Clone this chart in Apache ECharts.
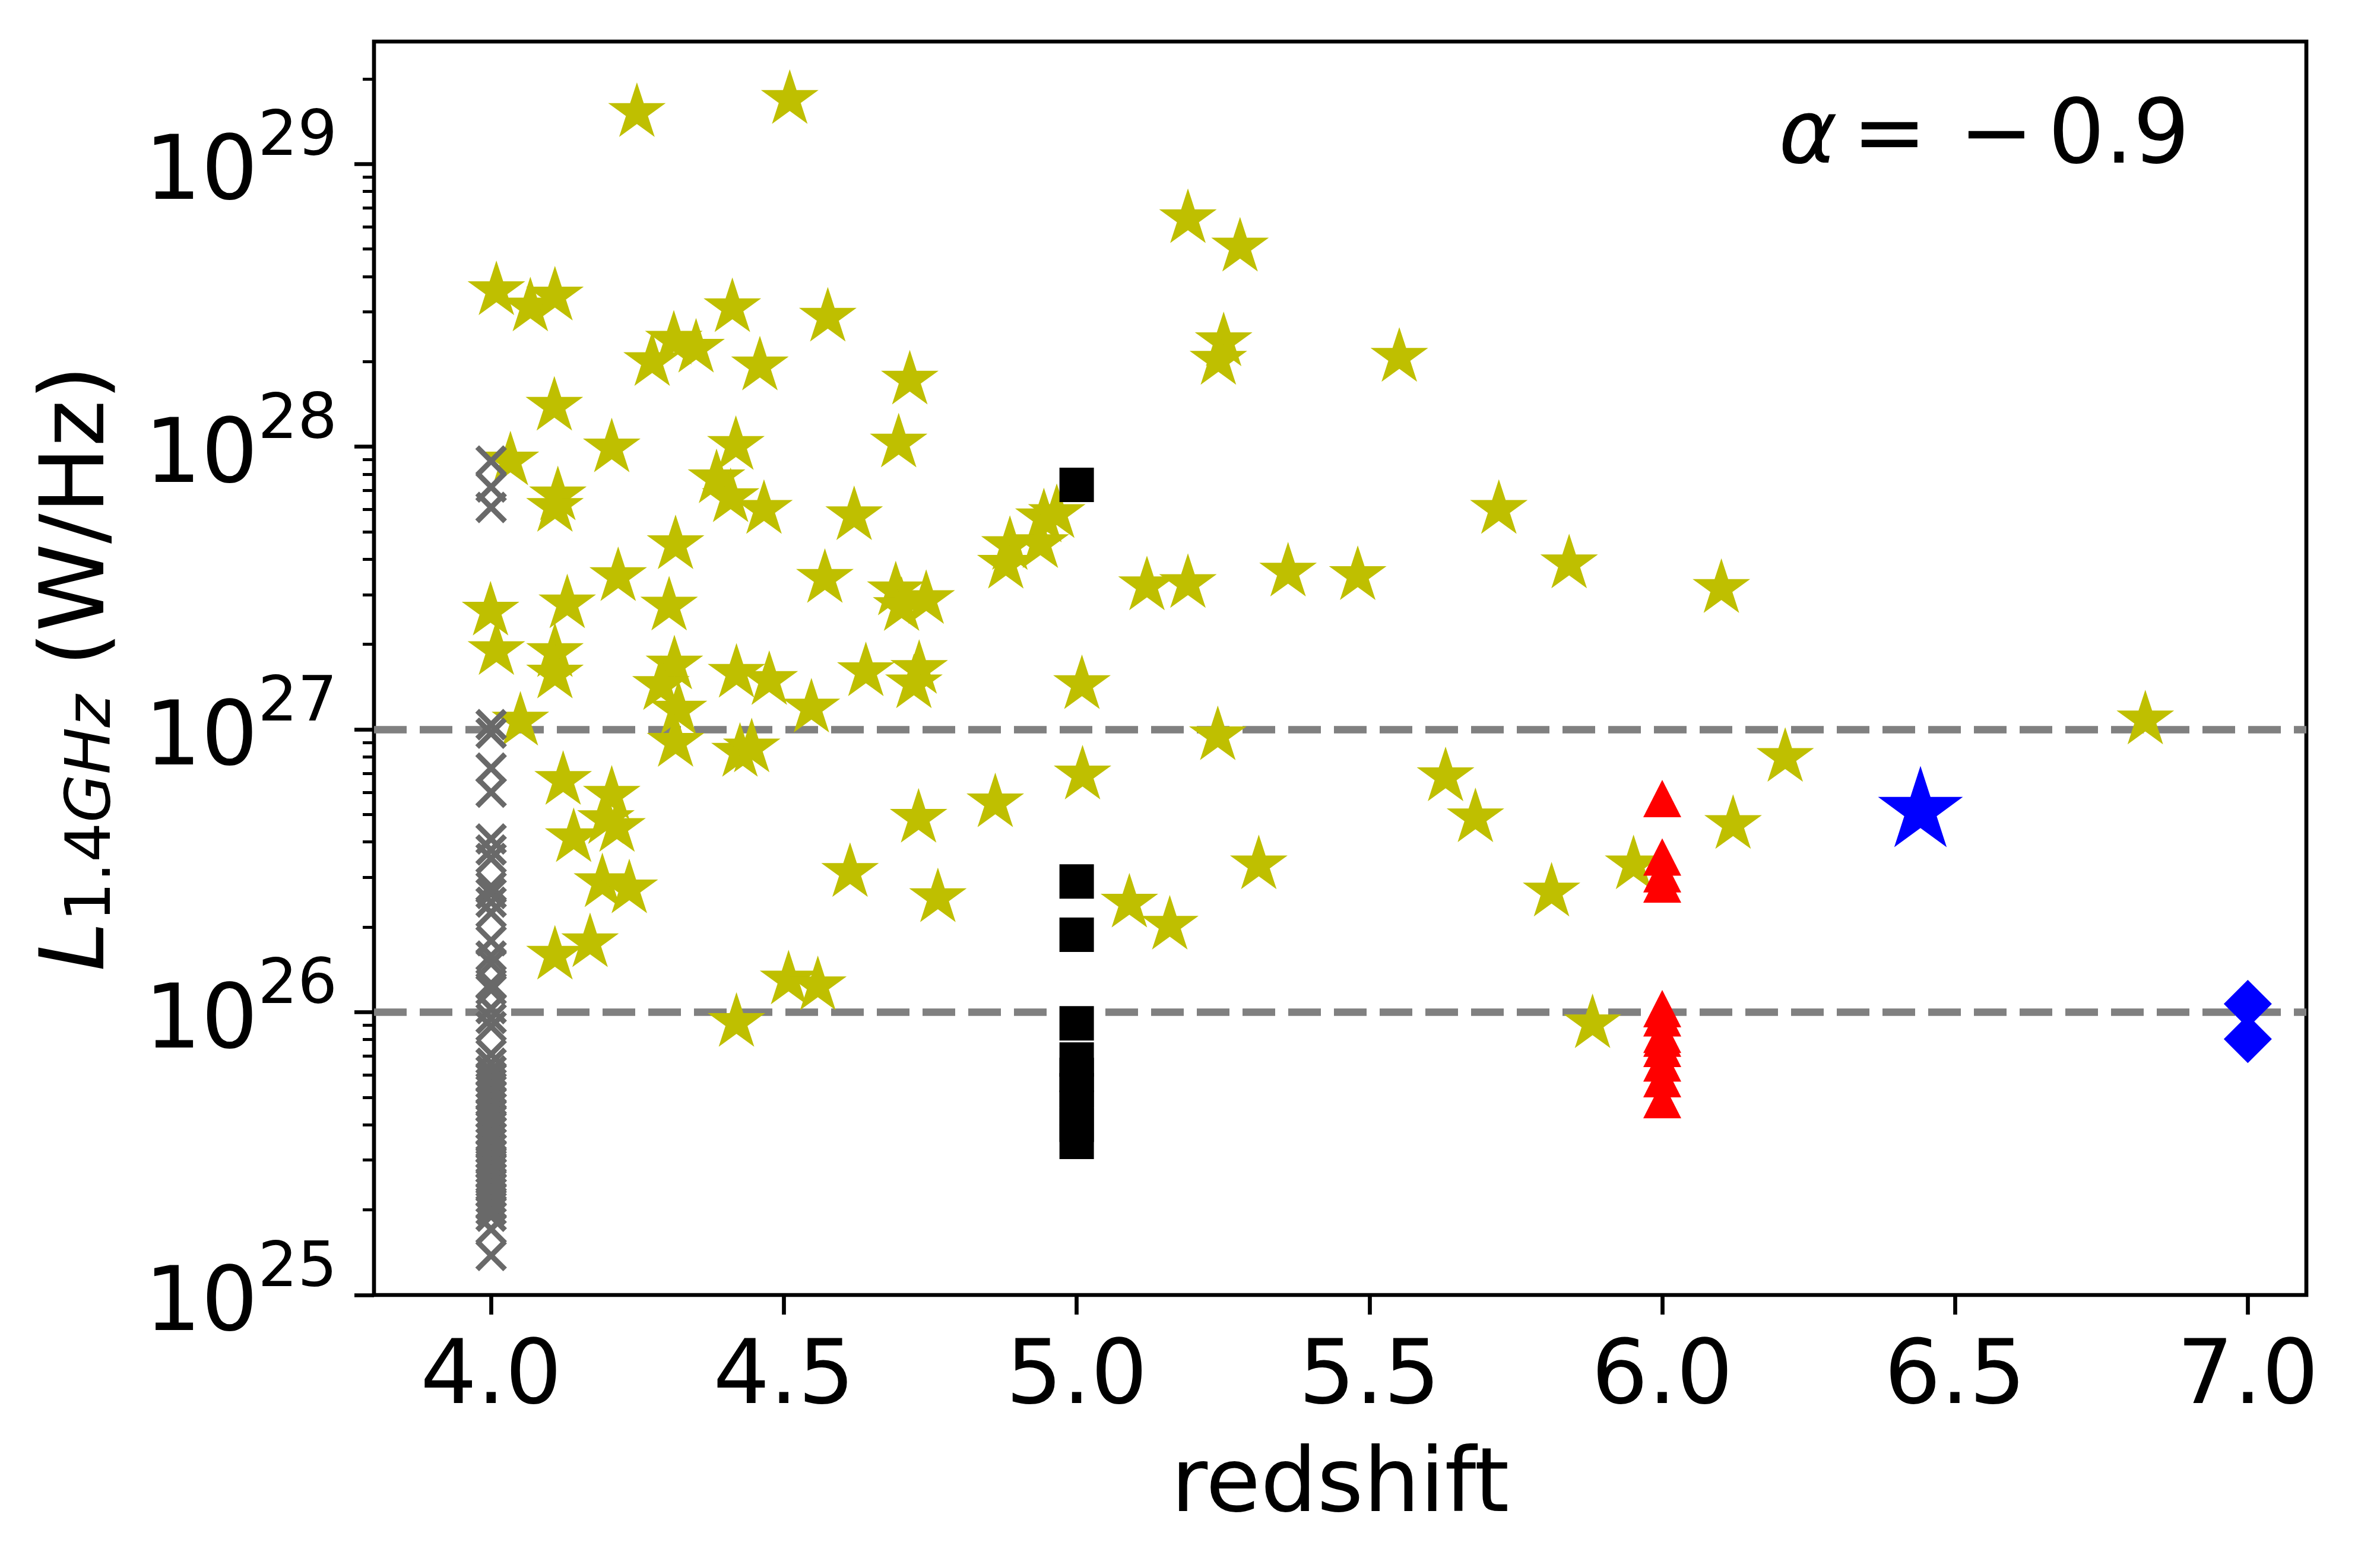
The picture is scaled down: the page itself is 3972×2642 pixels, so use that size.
<!DOCTYPE html>
<html><head><meta charset="utf-8">
<script src="https://cdn.jsdelivr.net/npm/echarts@6/dist/echarts.min.js"></script>
<style>html,body{margin:0;padding:0;background:#fff}#c{width:3972px;height:2642px}</style>
</head><body><div id="c"></div>
<script>
// ---- data (redshift, L_1.4GHz in W/Hz) ----
const starPoints = [
  [4.249,1.52e29],[4.510,1.69e29],[5.190,6.4e28],[5.279,5.08e28],
  [4.009,3.56e28],[4.067,3.12e28],[4.109,3.41e28],[4.412,3.10e28],[4.575,2.87e28],
  [4.312,2.38e28],[4.350,2.23e28],[4.275,2.0e28],[4.459,1.93e28],[4.715,1.72e28],
  [5.251,2.35e28],[5.242,2.02e28],[5.551,2.07e28],
  [4.108,1.39e28],[4.206,9.9e27],[4.418,1.01e28],[4.696,1.03e28],[4.033,8.9e27],
  [4.114,6.7e27],[4.109,6.1e27],[4.385,7.7e27],[4.409,6.6e27],[4.466,6.0e27],[4.620,5.7e27],
  [4.944,5.6e27],[4.966,5.8e27],[4.886,4.47e27],[4.879,3.84e27],[4.938,4.54e27],
  [5.721,6.0e27],[5.841,3.85e27],[6.101,3.15e27],[5.361,3.6e27],[5.480,3.5e27],[5.190,3.28e27],[5.120,3.22e27],
  [4.217,3.47e27],[4.315,4.5e27],[4.570,3.42e27],[4.130,2.78e27],[4.304,2.73e27],
  [4.691,3.09e27],[4.701,2.72e27],[4.743,2.88e27],[3.999,2.62e27],
  [4.009,1.9e27],[4.109,1.87e27],[4.109,1.57e27],[4.313,1.69e27],[4.290,1.43e27],[4.320,1.17e27],[4.315,9.0e26],
  [4.419,1.58e27],[4.475,1.49e27],[4.640,1.6e27],[4.731,1.63e27],[4.722,1.45e27],[4.547,1.19e27],[5.009,1.44e27],
  [4.050,1.07e27],[6.825,1.08e27],
  [4.425,8.3e26],[4.445,8.6e26],[5.241,9.5e26],[6.210,7.96e26],
  [4.123,6.6e26],[4.206,5.85e26],[5.010,6.9e26],[5.630,6.8e26],[4.861,5.5e26],
  [4.196,4.8e26],[4.215,4.5e26],[4.141,4.14e26],[4.730,4.85e26],[5.681,4.87e26],[6.121,4.61e26],
  [4.190,2.87e26],[4.236,2.73e26],[4.613,3.12e26],[4.763,2.54e26],[5.090,2.43e26],[5.159,2.03e26],
  [5.311,3.32e26],[5.811,2.66e26],[5.951,3.32e26],
  [4.109,1.59e26],[4.169,1.76e26],[4.508,1.30e26],[4.558,1.24e26],[4.419,9.2e25],[5.881,9.1e25]
];
const crossZ = 4.0;
const crossLum = [8.9e27,7.2e27,6.1e27,1.04e27,9.7e26,7.3e26,6.0e26,4.1e26,3.75e26,3.5e26,
  2.78e26,2.63e26,2.45e26,2.25e26,1.79e26,1.58e26,1.49e26,1.26e26,1.2e26,1.03e26,9.5e25,8.9e25,
  7.1e25,6.6e25,6.2e25,5.9e25,5.6e25,5.3e25,5.05e25,4.8e25,4.6e25,4.4e25,4.2e25,4.0e25,3.8e25,
  3.6e25,3.45e25,3.3e25,3.15e25,3.0e25,2.9e25,2.8e25,2.7e25,2.6e25,2.5e25,2.4e25,2.3e25,2.2e25,
  2.1e25,2.0e25,1.9e25,1.71e25,1.38e25];
const squareZ = 5.0;
const squareLum = [7.33e27,2.9e26,1.88e26,9.14e25,6.8e25,6.0e25,5.3e25,4.6e25,4.0e25,3.48e25];
const triangleZ = 6.0;
const triangleLum = [5.7e26,3.54e26,3.09e26,2.84e26,1.03e26,9.55e25,8.36e25,8.1e25,7.45e25,6.62e25,5.82e25,4.91e25];
const blueStarPoint = [[6.441,5.16e26]];
const diamondZ = 7.0;
const diamondLum = [1.07e26,8.04e25];
const refLines = [1e26,1e27];
const xTicks = [4.0,4.5,5.0,5.5,6.0,6.5,7.0];
const yDecades = [25,26,27,28,29];

// ---- helpers ----
function starPath(){
  let d='';
  for(let i=0;i<10;i++){
    const a=-Math.PI/2+i*Math.PI/5, r=(i%2)?0.381966:1;
    d+=(i?'L':'M')+(r*Math.cos(a)*100).toFixed(2)+','+(r*Math.sin(a)*100).toFixed(2);
  }
  return 'path://'+d+'Z';
}
const STAR = starPath();
const minorTicks = [];
yDecades.forEach(n=>{ for(let k=2;k<=9;k++){ const v=n+Math.log10(k); if(v<=29.433) minorTicks.push(v);} });

const FONT = 'DejaVu Sans';
const chart = echarts.init(document.getElementById('c'), null, {renderer:'canvas'});
chart.setOption({
  animation:false,
  backgroundColor:'#fff',
  textStyle:{fontFamily:FONT},
  grid:{left:630,right:87,top:70,bottom:460,show:true,borderColor:'#000',borderWidth:6.7,
        backgroundColor:'transparent',containLabel:false,outerBoundsMode:'none'},
  xAxis:{
    type:'value',min:3.8,max:7.1,
    axisLine:{show:false},
    splitLine:{show:false},
    axisTick:{show:true,inside:false,length:33,customValues:xTicks,lineStyle:{color:'#000',width:6.7}},
    axisLabel:{show:true,customValues:xTicks,formatter:v=>Number(v).toFixed(1),fontSize:150,color:'#000',margin:68,fontFamily:FONT},
    name:'redshift',nameLocation:'middle',nameGap:250,
    nameTextStyle:{fontSize:150,color:'#000',fontFamily:FONT}
  },
  yAxis:[
    {type:'log',logBase:10,min:1e25,max:2.71e29,position:'left',
     axisLine:{show:false},axisTick:{show:false},axisLabel:{show:false},splitLine:{show:false},
     name:'{i|L}{sd|1.4}{si|GHz}{n| (W/Hz)}',nameLocation:'middle',nameGap:420,nameRotate:90,
     nameTextStyle:{color:'#000',fontFamily:FONT,fontSize:150,rich:{
       i:{fontSize:150,fontStyle:'italic',lineHeight:150,verticalAlign:'bottom',fontFamily:FONT,color:'#000'},
       sd:{fontSize:105,lineHeight:92,verticalAlign:'bottom',fontFamily:FONT,color:'#000'},
       si:{fontSize:105,fontStyle:'italic',lineHeight:92,verticalAlign:'bottom',fontFamily:FONT,color:'#000'},
       n:{fontSize:150,lineHeight:150,verticalAlign:'bottom',fontFamily:FONT,color:'#000'}
     }}},
    {type:'value',min:25,max:29.433,position:'left',
     axisLine:{show:false},splitLine:{show:false},
     axisTick:{show:true,inside:false,length:33,customValues:yDecades,lineStyle:{color:'#000',width:6.7}},
     axisLabel:{show:true,customValues:yDecades,margin:62,color:'#000',fontFamily:FONT,
       formatter:v=>'{b|10}{s|'+Math.round(v)+'}',
       rich:{b:{fontSize:150,lineHeight:190,verticalAlign:'bottom',fontFamily:FONT,color:'#000'},
             s:{fontSize:105,lineHeight:105,verticalAlign:'top',fontFamily:FONT,color:'#000'}}}},
    {type:'value',min:25,max:29.433,position:'left',
     axisLine:{show:false},splitLine:{show:false},axisLabel:{show:false},
     axisTick:{show:true,inside:false,length:19,customValues:minorTicks,lineStyle:{color:'#000',width:5}}}
  ],
  graphic:[
    {type:'text',left:2996,top:160,style:{text:'α',font:'italic 150px "DejaVu Sans"',fill:'#000'}},
    {type:'text',left:3120,top:160,style:{text:'=',font:'150px "DejaVu Sans"',fill:'#000'}},
    {type:'text',left:3300,top:160,style:{text:'\u2212',font:'150px "DejaVu Sans"',fill:'#000'}},
    {type:'text',left:3450,top:160,style:{text:'0.9',font:'150px "DejaVu Sans"',fill:'#000'}}
  ],
  series:[
    {type:'scatter',name:'stars',data:starPoints,symbol:STAR,symbolSize:[97,92],symbolOffset:[0,-5],
     itemStyle:{color:'#bfbf00',opacity:1},z:2,
     markLine:{silent:true,symbol:'none',z:1,label:{show:false},
       lineStyle:{color:'#808080',width:12.5,type:[55,22],opacity:1},
       data:refLines.map(v=>({yAxis:v}))}},
    {type:'scatter',name:'cross',data:crossLum.map(v=>[crossZ,v]),symbol:'path://M0,0L10,10M10,0L0,10',symbolSize:47,
     itemStyle:{color:'rgba(0,0,0,0)',borderColor:'#696969',borderWidth:9,opacity:1},z:3},
    {type:'scatter',name:'squares',data:squareLum.map(v=>[squareZ,v]),symbol:'rect',symbolSize:58,itemStyle:{color:'#000',opacity:1},z:3},
    {type:'scatter',name:'triangles',data:triangleLum.map(v=>[triangleZ,v]),symbol:'triangle',symbolSize:[64,63],itemStyle:{color:'#ff0000',opacity:1},z:3},
    {type:'scatter',name:'bluestar',data:blueStarPoint,symbol:STAR,symbolSize:[143,137],symbolOffset:[0,-7],itemStyle:{color:'#0000ff',opacity:1},z:3},
    {type:'scatter',name:'diamonds',data:diamondLum.map(v=>[diamondZ,v]),symbol:'diamond',symbolSize:[81,81],itemStyle:{color:'#0000ff',opacity:1},z:3}
  ]
});
</script></body></html>
